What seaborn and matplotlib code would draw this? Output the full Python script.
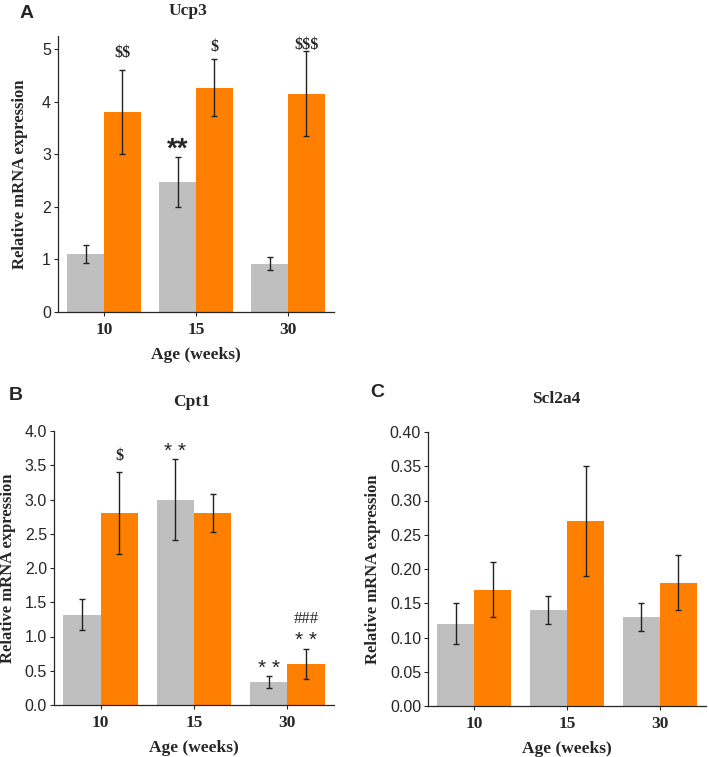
import pandas as pd
import matplotlib
matplotlib.use("Agg")
import matplotlib.pyplot as plt
import seaborn as sns

ages = ["10", "15", "30"]
groups = ["ctrl", "treat"]

ucp3_ctrl = [1.10, 2.47, 0.92]
ucp3_ctrl_err = [0.17, 0.48, 0.13]
ucp3_treat = [3.80, 4.27, 4.15]
ucp3_treat_err = [0.80, 0.54, 0.81]

cpt1_ctrl = [1.32, 3.00, 0.34]
cpt1_ctrl_err = [0.23, 0.59, 0.09]
cpt1_treat = [2.80, 2.80, 0.60]
cpt1_treat_err = [0.60, 0.28, 0.22]

slc_ctrl = [0.12, 0.14, 0.13]
slc_ctrl_err = [0.03, 0.02, 0.02]
slc_treat = [0.17, 0.27, 0.18]
slc_treat_err = [0.04, 0.08, 0.04]

# annotations: (group index, age index, text, y position, style)
ucp3_notes = [(1, 0, "$$", 4.92, "serif"), (1, 1, "$", 5.05, "serif"),
              (1, 2, "$$$", 5.08, "serif"), (0, 1, "**", 3.08, "star_bold")]
cpt1_notes = [(1, 0, "$", 3.64, "serif"), (0, 1, "**", 3.70, "star"),
              (0, 2, "**", 0.53, "star"), (1, 2, "**", 0.94, "star"),
              (1, 2, "###", 1.26, "serif_plain")]
slc_notes = []

gray = "#BFBFBF"
orange = "#FF8000"

sns.set_style("ticks")
plt.rcParams["font.family"] = ["Liberation Sans", "DejaVu Sans"]

fig = plt.figure(figsize=(7.09, 7.57), dpi=100)
W, H = 709, 757


def px_axes(l, r, b, t):
    return fig.add_axes([l / W, 1 - b / H, (r - l) / W, (b - t) / H])


def panel(ax, ctrl, ctrl_err, treat, treat_err, ylim, yticks, fmt, title, notes, ypad, tpad):
    df = pd.DataFrame({
        "age": ages * 2,
        "group": [groups[0]] * 3 + [groups[1]] * 3,
        "value": ctrl + treat,
    })
    sns.barplot(data=df, x="age", y="value", hue="group", order=ages,
                hue_order=groups, palette=[gray, orange], width=0.8,
                errorbar=None, legend=False, ax=ax, saturation=1, linewidth=0)
    bars = list(ax.containers)
    errs = [ctrl_err, treat_err]
    vals = [ctrl, treat]
    for gi, cont in enumerate(bars):
        xs = [p.get_x() + p.get_width() / 2 for p in cont.patches]
        ax.errorbar(xs, vals[gi], yerr=errs[gi], fmt="none", ecolor="#222222",
                    elinewidth=1.0, capsize=2.2, capthick=1.0)
    for gi, ai, txt, y, style in notes:
        p = bars[gi].patches[ai]
        x = p.get_x() + p.get_width() / 2
        if style == "serif":
            ax.text(x, y, txt, ha="center", va="center", fontsize=11.5,
                    family="Liberation Serif", fontweight="bold", parse_math=False)
        elif style == "serif_plain":
            ax.text(x, y, txt, ha="center", va="center", fontsize=12,
                    family="Liberation Serif", parse_math=False)
        elif style == "star_bold":
            ax.text(x, y, txt, ha="center", va="center", fontsize=20,
                    family="Liberation Sans", fontweight="bold")
        else:
            ax.text(x, y, "* *", ha="center", va="center", fontsize=15,
                    family="Liberation Sans")
    ax.set_xlim(-0.5, 2.5)
    ax.set_ylim(*ylim)
    ax.set_yticks(yticks)
    ax.set_yticklabels([fmt.format(v) for v in yticks], fontsize=11.5)
    ax.set_xticks(range(3))
    ax.set_xticklabels(ages, fontsize=12.5, family="Liberation Serif", fontweight="bold")
    ax.tick_params(axis="both", length=3, width=0.8, pad=2)
    ax.tick_params(axis="x", pad=4)
    ax.set_xlabel("Age (weeks)", fontsize=12.5, family="Liberation Serif",
                  fontweight="bold", labelpad=7)
    ax.set_ylabel("Relative mRNA expression", fontsize=12, family="Liberation Serif",
                  fontweight="bold", labelpad=ypad)
    ax.set_title(title, fontsize=12.5, family="Liberation Serif", fontweight="bold",
                 pad=tpad)
    sns.despine(ax=ax)
    for s in ["left", "bottom"]:
        ax.spines[s].set_linewidth(0.9)


axA = px_axes(58, 334, 312, 36)
panel(axA, ucp3_ctrl, ucp3_ctrl_err, ucp3_treat, ucp3_treat_err, (0, 5.25),
      [0, 1, 2, 3, 4, 5], "{:g}", "Ucp3", ucp3_notes, 10, 15)
axA.title.set_position((0.47, 1.0))

axB = px_axes(54, 334, 705, 431)
panel(axB, cpt1_ctrl, cpt1_ctrl_err, cpt1_treat, cpt1_treat_err, (0, 4.0),
      [0, 0.5, 1, 1.5, 2, 2.5, 3, 3.5, 4], "{:.1f}", "Cpt1", cpt1_notes, 6, 18)
axB.title.set_position((0.49, 1.0))

axC = px_axes(428, 706, 706, 432)
panel(axC, slc_ctrl, slc_ctrl_err, slc_treat, slc_treat_err, (0, 0.40),
      [0, 0.05, 0.1, 0.15, 0.2, 0.25, 0.3, 0.35, 0.4], "{:.2f}", "Scl2a4", slc_notes, 6, 21)
axC.title.set_position((0.46, 1.0))

for txt, x, y in [("A", 27, 13), ("B", 16, 395), ("C", 377, 393)]:
    fig.text(x / W, 1 - y / H, txt, fontsize=14, fontweight="bold",
             ha="center", va="center", family="Liberation Sans")

fig.savefig("out.png", dpi=100)
